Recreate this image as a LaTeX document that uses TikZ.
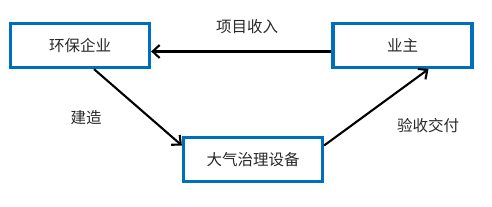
\documentclass[tikz,border=0pt]{standalone}
\usepackage{fontspec}
\newfontfamily\cjk{Noto Sans CJK SC}
\usetikzlibrary{arrows.meta,positioning}
\definecolor{boxblue}{RGB}{0,110,190}
\definecolor{inkgray}{RGB}{40,40,40}

\begin{document}
\begin{tikzpicture}[x=1pt, y=-1pt, font=\cjk\fontsize{15.5}{17}\selectfont, text=inkgray,
    party/.style={draw=boxblue, line width=3.2pt, fill=white, minimum width=139pt, minimum height=44pt, inner sep=0pt},
    flow/.style={-{Straight Barb[length=7pt,width=13pt]}, line width=2.1pt}]
  \useasboundingbox (0,0) rectangle (492,206);
  % the three parties
  \node[party] (firm) at (80,45.5) {环保企业};
  \node[party] (owner) at (402.5,45.5) {业主};
  \node[party] (device) at (253,159.5) {大气治理设备};

  % labels
  \node (income) at (247,27) {项目收入};
  \node (build) at (86,118) {建造};
  \node (accept) at (428,126) {验收交付};

  % flows
  \draw[flow] ([yshift=-6pt]owner.west) -- ([yshift=-6pt]firm.east);
  \draw[flow] ([xshift=14pt]firm.south) -- ([yshift=14pt]device.west);
  \draw[flow] ([yshift=14pt]device.east) -- ([xshift=26pt]owner.south);
\end{tikzpicture}
\end{document}
